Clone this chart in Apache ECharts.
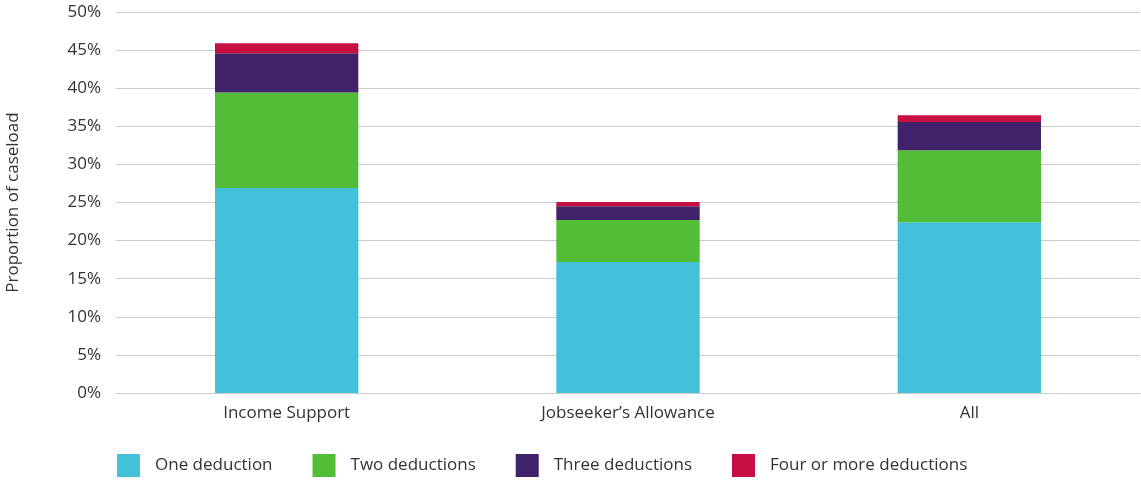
<!DOCTYPE html>
<html>
<head>
<meta charset="utf-8">
<script src="https://cdn.jsdelivr.net/npm/echarts@6/dist/echarts.min.js"></script>
<style>
  html, body { margin: 0; padding: 0; background: #fff; }
  #chart { width: 1141px; height: 480px; }
</style>
</head>
<body>
<div id="chart"></div>
<script>
// benefit types on the x axis
var categories = ['Income Support', 'Jobseeker\u2019s Allowance', 'All']

// proportion of caseload (%) per number of deductions
var oneDeduction = [26.9, 17.2, 22.4]
var twoDeductions = [12.55, 5.5, 9.45]
var threeDeductions = [5.15, 1.8, 3.7]
var fourOrMore = [1.3, 0.55, 0.9]

var seriesNames = ['One deduction', 'Two deductions', 'Three deductions', 'Four or more deductions']
var colors = ['#43c0da', '#52bd37', '#40226a', '#c70f41']

var font = 'Open Sans'
var fontSize = 17
var textColor = '#333'

var chart = echarts.init(document.getElementById('chart'))

var seriesData = [oneDeduction, twoDeductions, threeDeductions, fourOrMore]
var series = seriesData.map(function(d, i) {
  return {
    name: seriesNames[i],
    type: 'bar',
    stack: 'total',
    barWidth: '42%',
    itemStyle: { color: colors[i] },
    data: d
  }
})

chart.setOption({
  animation: false,
  color: colors,
  grid: {
    left: 116,
    right: 1,
    top: 12,
    bottom: 87,
    containLabel: false,
    outerBoundsMode: 'none'
  },
  legend: {
    left: 112,
    top: 449,
    itemWidth: 23,
    itemHeight: 23,
    itemGap: 40,
    icon: 'rect',
    textStyle: {
      fontFamily: font,
      fontSize: fontSize,
      color: textColor,
      padding: [0, 0, 0, 10]
    },
    data: seriesNames
  },
  xAxis: {
    type: 'category',
    data: categories,
    axisLine: { lineStyle: { color: '#cccccc', width: 1 } },
    axisTick: { alignWithLabel: true, length: 10, lineStyle: { color: '#cccccc' } },
    axisLabel: {
      fontFamily: font,
      fontSize: fontSize,
      color: textColor,
      margin: 12
    }
  },
  yAxis: {
    type: 'value',
    min: 0,
    max: 50,
    interval: 5,
    name: 'Proportion of caseload',
    nameLocation: 'middle',
    nameGap: 94,
    nameTextStyle: {
      fontFamily: font,
      fontSize: fontSize,
      color: textColor
    },
    axisLine: { show: false },
    axisTick: { show: false },
    splitLine: { lineStyle: { color: '#cccccc', width: 1 } },
    axisLabel: {
      fontFamily: font,
      fontSize: fontSize,
      color: textColor,
      margin: 15,
      formatter: '{value}%'
    }
  },
  series: series
})
</script>
</body>
</html>
